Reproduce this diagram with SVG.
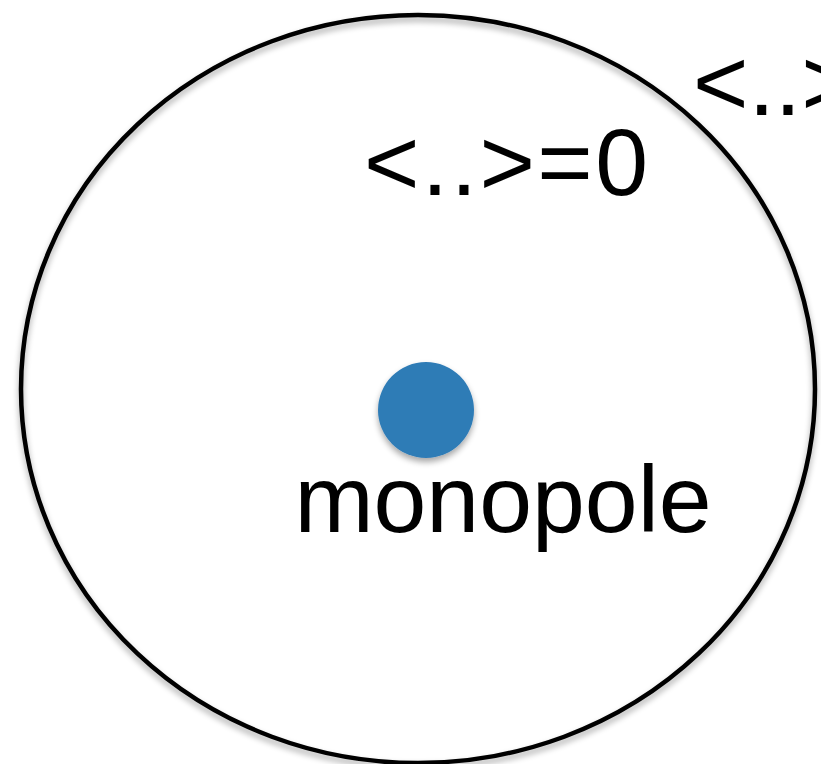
<svg xmlns="http://www.w3.org/2000/svg" width="821" height="764" viewBox="0 0 821 764">
  <defs>
    <filter id="sh" x="-20%" y="-20%" width="140%" height="140%">
      <feGaussianBlur in="SourceAlpha" stdDeviation="3"/>
      <feOffset dx="0" dy="4" result="b"/>
      <feComponentTransfer><feFuncA type="linear" slope="0.35"/></feComponentTransfer>
      <feMerge><feMergeNode/><feMergeNode in="SourceGraphic"/></feMerge>
    </filter>
  </defs>
  <style>
    .t { font-family: "Liberation Sans", Arial, sans-serif; font-size: 95px; fill: #000; }
  </style>
  <rect width="821" height="764" fill="#fff"/>
  <g id="region">
    <ellipse cx="418" cy="389" rx="397" ry="374" fill="none" stroke="#000" stroke-width="4.5" filter="url(#sh)"/>
  </g>
  <g id="outside-label">
    <text class="t" x="693" y="115">&lt;..&gt;</text>
  </g>
  <g id="inside-label">
    <text class="t" x="364" y="195" textLength="284" lengthAdjust="spacing">&lt;..&gt;=0</text>
  </g>
  <g id="monopole">
    <circle cx="426" cy="410" r="48" fill="#2f7bb6" filter="url(#sh)"/>
    <text class="t" x="503" y="532" text-anchor="middle">monopole</text>
  </g>
  <g id="connectors"/>
</svg>
